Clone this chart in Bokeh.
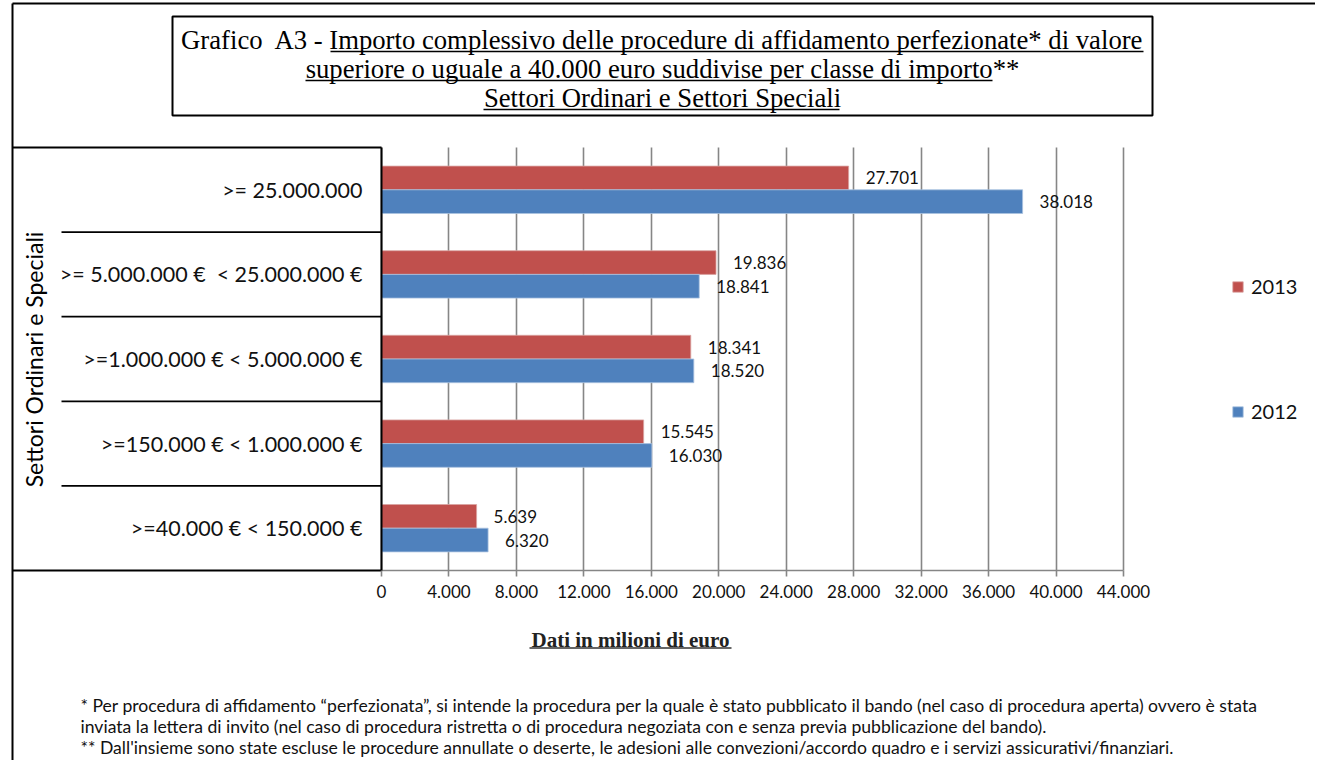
import math
from bokeh.plotting import figure
from bokeh.models import Range1d, FixedTicker, Legend, LegendItem, ColumnDataSource
from bokeh.transform import dodge
from bokeh.core.properties import value
from bokeh.embed import file_html
from bokeh.resources import INLINE

# ---------------- data ----------------
categories = [
    ">=40.000 € < 150.000 €",
    ">=150.000 € < 1.000.000 €",
    ">=1.000.000 € < 5.000.000 €",
    ">= 5.000.000 €\u00a0 < 25.000.000 €",
    ">= 25.000.000",
]
values_2013 = [5639, 15545, 18341, 19836, 27701]
values_2012 = [6320, 16030, 18520, 18841, 38018]
series_names = ["2013", "2012"]
series_colors = ["#C0504D", "#4F81BD"]
x_ticks = [0, 4000, 8000, 12000, 16000, 20000, 24000, 28000, 32000, 36000, 40000, 44000]
x_tick_labels = ["0", "4.000", "8.000", "12.000", "16.000", "20.000", "24.000",
                 "28.000", "32.000", "36.000", "40.000", "44.000"]

title_lines = [
    "Grafico\u00a0 A3 - Importo complessivo delle procedure di affidamento perfezionate* di valore",
    "superiore o uguale a 40.000 euro suddivise per classe di importo**",
    "Settori Ordinari e Settori Speciali",
]
axis_title_y = "Settori Ordinari e Speciali"
axis_title_x = "Dati in milioni di euro"
footnotes = [
    "* Per procedura di affidamento \u201cperfezionata\u201d, si intende la procedura per la quale è stato pubblicato il bando (nel caso di procedura aperta) ovvero è stata",
    "inviata la lettera di invito (nel caso di procedura ristretta o di procedura negoziata con e senza previa pubblicazione del bando).",
    "** Dall'insieme sono state escluse le procedure annullate o deserte, le adesioni alle convezioni/accordo quadro e i servizi assicurativi/finanziari.",
]


def fmt(v):
    return f"{v:,}".replace(",", ".")


# ---------------- page geometry (pixels) ----------------
W, H = 1315, 760
ZERO_PX = 381        # page x of value 0
END_PX = 1123        # page x of last tick
BASE_PX = 570        # page y of bottom of category axis
TOP_PX = 147         # page y of top of category axis
FONT = "Lato"
SERIF = "Liberation Serif"

n = len(categories)
kx = x_ticks[-1] / (END_PX - ZERO_PX)          # value per pixel
ky = n / (BASE_PX - TOP_PX)                     # category unit per pixel

p = figure(width=W, height=H, output_backend="svg", toolbar_location=None,
           x_range=Range1d(-ZERO_PX * kx, (W - ZERO_PX) * kx),
           y_range=Range1d(-(H - BASE_PX) * ky, BASE_PX * ky),
           min_border=0, min_border_left=0, min_border_right=0,
           min_border_top=0, min_border_bottom=0)
p.extra_x_ranges = {"px": Range1d(0, W)}
p.extra_y_ranges = {"px": Range1d(H, 0)}
p.outline_line_color = None
p.background_fill_color = "white"
p.border_fill_color = "white"

pos = [i + 0.5 for i in range(n)]
src = ColumnDataSource(dict(
    cat=categories, pos=pos,
    v13=values_2013, v12=values_2012,
    l13=[fmt(v) for v in values_2013],
    l12=[fmt(v) for v in values_2012],
))

# grid lines (value grid, only over the category band)
grid = p.xgrid[0]
grid.ticker = FixedTicker(ticks=x_ticks)
grid.grid_line_color = "#868686"
grid.grid_line_width = 1.6
if "cross_bounds" in grid.properties():
    grid.cross_bounds = (0, n)
    grid.bounds = (x_ticks[0], x_ticks[-1])
else:
    grid.visible = False
    p.segment(x0=x_ticks, x1=x_ticks, y0=[0] * len(x_ticks), y1=[n] * len(x_ticks),
              line_color="#868686", line_width=1.6)
p.ygrid.visible = False

r13 = p.hbar(y=dodge("pos", 0.14), right="v13", left=0, height=0.28, source=src,
             fill_color=series_colors[0], line_color="#D9A3A1", line_width=0.8)
r12 = p.hbar(y=dodge("pos", -0.14), right="v12", left=0, height=0.28, source=src,
             fill_color=series_colors[1], line_color="#A9C1E0", line_width=0.8)

for col, xcol, off in (("l13", "v13", 0.14), ("l12", "v12", -0.14)):
    p.text(x=xcol, y=dodge("pos", off), text=col, source=src,
           x_offset=17, text_align="left", text_baseline="middle",
           text_font=value(FONT), text_font_size="17px", text_color="#111111")

# x axis, drawn at the foot of the category band
xa = p.xaxis[0]
xa.fixed_location = 0
xa.bounds = (x_ticks[0], x_ticks[-1])
xa.ticker = FixedTicker(ticks=x_ticks)
xa.major_label_overrides = {t: l for t, l in zip(x_ticks, x_tick_labels)}
xa.axis_line_color = "#868686"
xa.axis_line_width = 1.6
xa.major_tick_line_color = "#868686"
xa.major_tick_line_width = 1.6
xa.major_tick_out = 6
xa.major_tick_in = 0
xa.minor_tick_line_color = None
xa.major_label_text_font = FONT
xa.major_label_text_font_size = "17px"
xa.major_label_text_color = "#111111"
xa.major_label_standoff = 8

# y axis with the category labels, drawn at value 0
ya = p.yaxis[0]
ya.fixed_location = 0
ya.bounds = (0, n)
ya.ticker = FixedTicker(ticks=pos)
ya.major_label_overrides = {t: c for t, c in zip(pos, categories)}
ya.axis_line_color = "black"
ya.axis_line_width = 2
ya.major_tick_line_color = None
ya.major_tick_out = 0
ya.major_tick_in = 0
ya.minor_tick_line_color = None
ya.major_label_text_font = FONT
ya.major_label_text_font_size = "21.5px"
ya.major_label_text_color = "#111111"
ya.major_label_standoff = 19

# category separators of the label table
bounds_inner = list(range(1, n))
p.segment(x0=[61] * len(bounds_inner), x1=[ZERO_PX] * len(bounds_inner),
          y0=bounds_inner, y1=bounds_inner, x_range_name="px",
          line_color="black", line_width=1.8)
p.segment(x0=[12, 12], x1=[ZERO_PX, ZERO_PX], y0=[0, n], y1=[0, n], x_range_name="px",
          line_color="black", line_width=1.8)

legend = Legend(items=[LegendItem(label=series_names[0], renderers=[r13]),
                       LegendItem(label=series_names[1], renderers=[r12])],
                location=(1231, H - 423), orientation="vertical", spacing=101,
                glyph_width=13, glyph_height=13, label_standoff=7,
                padding=0, margin=0, border_line_color=None,
                background_fill_alpha=0, label_text_font=FONT,
                label_text_font_size="20px", label_text_color="#111111",
                label_height=20)
p.add_layout(legend)


# ---------------- decorations in page pixels ----------------
def seg(x0, y0, x1, y1, w=1.6, color="black"):
    p.segment(x0=[x0], y0=[y0], x1=[x1], y1=[y1], line_color=color, line_width=w,
              x_range_name="px", y_range_name="px")


def txt(x, y, t, font=FONT, size="16px", align="left", angle=0, style="normal",
        color="#111111"):
    p.text(x=[x], y=[y], text=[t], text_font=value(font), text_font_size=size,
           text_align=align, text_baseline="middle", angle=angle,
           text_font_style=style, text_color=color,
           x_range_name="px", y_range_name="px")


# page frame
seg(12, 3, W, 3, w=2)
seg(12, 3, 12, H, w=2)

# title box
p.quad(left=[172], right=[1152], top=[16], bottom=[115], fill_color=None,
       line_color="black", line_width=2, x_range_name="px", y_range_name="px")
txt(662, 39.5, title_lines[0], font=SERIF, size="26.7px", align="center", color="black")
txt(662, 68.5, title_lines[1], font=SERIF, size="26.7px", align="center", color="black")
txt(662, 97.5, title_lines[2], font=SERIF, size="26.7px", align="center", color="black")
seg(330, 51, 1143, 51, w=1.5)
seg(305, 80, 992, 80, w=1.5)
seg(483, 109, 839, 109, w=1.5)

# y title
txt(33, 359, axis_title_y, size="23px", align="center", angle=math.pi / 2, color="black")

# x title
txt(630, 639, axis_title_x, font=SERIF, size="21px", align="center", style="bold",
    color="#222222")
seg(529, 647.5, 731, 647.5, w=1.4, color="#333333")

# footnotes
txt(80, 705, footnotes[0], size="17.6px")
txt(80, 726, footnotes[1], size="17.6px")
txt(80, 747, footnotes[2], size="17.6px")

open("out.html", "w").write(file_html(p, INLINE))
